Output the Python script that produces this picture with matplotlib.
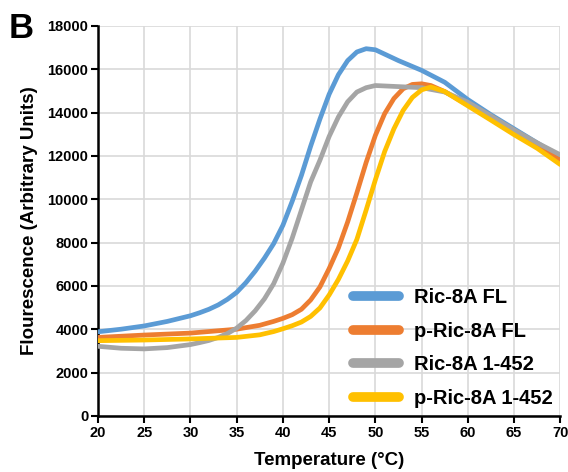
import matplotlib.pyplot as plt
from matplotlib.lines import Line2D

plt.rcParams['font.family'] = ['Liberation Sans', 'DejaVu Sans']
plt.rcParams['font.weight'] = 'bold'

# temperatures (deg C) and fluorescence readings per construct
temp_blue = [20, 22.5, 25, 27.5, 30, 31, 32, 33, 34, 35, 36, 37, 38, 39, 40, 41, 42, 43, 44, 45,
             46, 47, 48, 49, 50, 51, 52.5, 55, 57.5, 60, 62.5, 65, 67.5, 70]
ric8a_fl = [3880, 4000, 4150, 4360, 4620, 4760, 4920, 5120, 5380, 5700, 6150, 6680, 7280, 7950,
            8800, 9900, 11100, 12450, 13700, 14850, 15750, 16400, 16800, 16950, 16900, 16700,
            16400, 15950, 15400, 14600, 13900, 13250, 12600, 11950]

temp_gray = [20, 22.5, 25, 27.5, 30, 31, 32, 33, 34, 35, 36, 37, 38, 39, 40, 41, 42, 43, 44, 45,
             46, 47, 48, 49, 50, 52.5, 55, 57.5, 60, 62.5, 65, 67.5, 70]
ric8a_452 = [3210, 3120, 3090, 3150, 3290, 3380, 3480, 3620, 3800, 4050, 4400, 4850, 5400, 6100,
             7050, 8200, 9500, 10800, 11800, 12900, 13800, 14500, 14950, 15150, 15250, 15200,
             15150, 14950, 14480, 13850, 13200, 12600, 12050]

temp_orange = [20, 25, 30, 35, 37.5, 39, 40, 41, 42, 43, 44, 45, 46, 47, 48, 49, 50, 51, 52, 53,
               54, 55, 56, 57.5, 60, 62.5, 65, 67.5, 70]
p_ric8a_fl = [3620, 3730, 3820, 4000, 4180, 4360, 4500, 4670, 4920, 5350, 5950, 6800, 7750, 8950,
              10300, 11700, 12950, 13950, 14650, 15100, 15300, 15330, 15250, 14970, 14350, 13700,
              13050, 12450, 11800]

temp_yellow = [20, 25, 30, 35, 37.5, 39, 40, 41, 42, 43, 44, 45, 46, 47, 48, 49, 50, 51, 52, 53,
               54, 55, 56, 57.5, 60, 62.5, 65, 67.5, 70]
p_ric8a_452 = [3470, 3500, 3550, 3620, 3740, 3890, 4020, 4160, 4330, 4590, 4980, 5580, 6300, 7150,
               8150, 9500, 10900, 12200, 13250, 14100, 14700, 15050, 15180, 14970, 14310, 13650,
               12980, 12350, 11600]

labels = ['Ric-8A FL', 'p-Ric-8A FL', 'Ric-8A 1-452', 'p-Ric-8A 1-452']
colors = ['#5B9BD5', '#ED7D31', '#A5A5A5', '#FFC000']

fig = plt.figure(figsize=(5.68, 4.72), dpi=100)
ax = fig.add_axes([0.1725, 0.119, 0.814, 0.826])

series = [(temp_blue, ric8a_fl), (temp_orange, p_ric8a_fl), (temp_gray, ric8a_452), (temp_yellow, p_ric8a_452)]
for (t, v), c in zip(series, colors):
    ax.plot(t, v, color=c, lw=3.4, solid_capstyle='round', solid_joinstyle='round', zorder=3)

ax.set_xlim(20, 70)
ax.set_ylim(0, 18000)
ax.set_xticks(range(20, 71, 5))
ax.set_yticks(range(0, 18001, 2000))
ax.grid(True, color='#d9d9d9', lw=1.2)
ax.set_axisbelow(True)
for s in ['top', 'right']:
    ax.spines[s].set_visible(False)
for s in ['left', 'bottom']:
    ax.spines[s].set_linewidth(1.8)
ax.tick_params(direction='out', length=5, width=1.5, labelsize=10.5, pad=2)
for lab in ax.get_xticklabels() + ax.get_yticklabels():
    lab.set_fontweight('bold')
ax.set_xlabel('Temperature (°C)', fontsize=13.5, fontweight='bold', labelpad=9)
ax.set_ylabel('Flourescence (Arbitrary Units)', fontsize=13.5, fontweight='bold', labelpad=7)

handles = [Line2D([0], [0], color=c, lw=7, solid_capstyle='round') for c in colors]
ax.legend(handles, labels, loc='lower right', bbox_to_anchor=(1.0, 0.0), frameon=False,
          prop={'weight': 'bold', 'size': 14.5}, handlelength=2.3, labelspacing=0.72,
          handletextpad=0.7, borderaxespad=0.2, borderpad=0.2)

fig.text(0.015, 0.975, 'B', fontsize=25, fontweight='bold', va='top', ha='left')

fig.savefig('out.png', dpi=100)
